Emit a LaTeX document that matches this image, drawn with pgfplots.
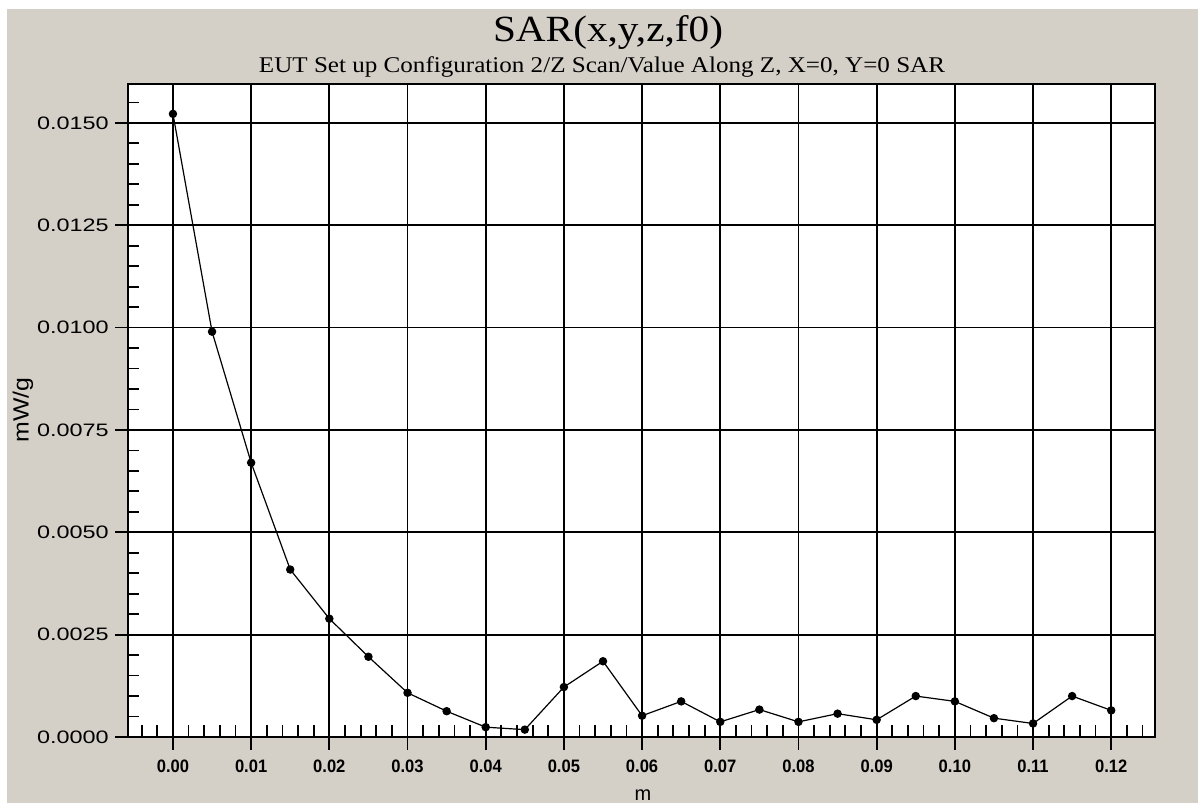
\documentclass[border=0pt]{standalone}
\usepackage{pgfplots}
\pgfplotsset{compat=1.18}
\usepackage{fontspec}
\setmainfont{Liberation Serif}
\newfontfamily\sansf{Liberation Sans}
\definecolor{bggray}{HTML}{D4D0C8}
\newcommand\yl[1]{\scalebox{1.3}[1]{#1}}
\newcommand\xl[1]{\scalebox{0.92}[1]{#1}}
\begin{document}
\begin{tikzpicture}
\path[use as bounding box] (0,0) rectangle (599pt,401.5pt);
\fill[white] (0,0) rectangle (599pt,401.5pt);
\fill[bggray] (3.5pt,0) rectangle (599pt,397pt);
\node[anchor=base, inner sep=0pt] at (304pt,380.5pt) {\resizebox{115pt}{13pt}{\fontsize{20}{20}\selectfont SAR(x,y,z,f0)}};
\node[anchor=base, inner sep=0pt] at (301pt,365pt) {\resizebox{343pt}{7.9pt}{\fontsize{11}{11}\selectfont EUT Set up Configuration 2/Z Scan/Value Along Z, X=0, Y=0 SAR}};
\begin{axis}[
  at={(64pt,33pt)}, anchor=south west,
  scale only axis, width=513.5pt, height=326.5pt,
  xmin=-0.00575, xmax=0.1256, ymin=0, ymax=0.01595,
  axis background/.style={fill=white},
  axis line style={black, line width=1pt},
  xtick={0,0.01,0.02,0.03,0.04,0.05,0.06,0.07,0.08,0.09,0.10,0.11,0.12},
  xticklabels={\xl{0.00},\xl{0.01},\xl{0.02},\xl{0.03},\xl{0.04},\xl{0.05},\xl{0.06},\xl{0.07},\xl{0.08},\xl{0.09},\xl{0.10},\xl{0.11},\xl{0.12}},
  ytick={0,0.0025,0.005,0.0075,0.01,0.0125,0.015},
  yticklabels={\yl{0.0000},\yl{0.0025},\yl{0.0050},\yl{0.0075},\yl{0.0100},\yl{0.0125},\yl{0.0150}},
  scaled ticks=false,
  xtick pos=lower, ytick pos=left,
  tick align=outside, major tick length=6.5pt,
  tick style={black, line width=0.9pt},
  grid=major, major grid style={black, line width=0.9pt},
  extra x ticks={-0.004,-0.002,...,0.1245},
  extra x tick labels={},
  extra x tick style={tick align=inside, grid=none, major tick length=6pt},
  extra y ticks={0.0005,0.001,...,0.01555},
  extra y tick labels={},
  extra y tick style={tick align=inside, grid=none, major tick length=5.5pt},
  xticklabel style={font=\sansf\bfseries\fontsize{9}{9}\selectfont, anchor=north, inner sep=0pt, yshift=-5pt},
  yticklabel style={font=\sansf\fontsize{9}{9}\selectfont, anchor=east, inner sep=0pt, xshift=-3pt},
]
\addplot[black, line width=0.6pt, mark=*, mark size=1.8pt] coordinates {
(0,0.01522) (0.005,0.00990) (0.01,0.00670) (0.015,0.00409) (0.02,0.00289)
(0.025,0.00196) (0.03,0.00108) (0.035,0.00063) (0.04,0.00024) (0.045,0.00018)
(0.05,0.00122) (0.055,0.00185) (0.06,0.00052) (0.065,0.00087) (0.07,0.00037)
(0.075,0.00067) (0.08,0.00037) (0.085,0.00057) (0.09,0.00042) (0.095,0.00100)
(0.10,0.00087) (0.105,0.00046) (0.11,0.00033) (0.115,0.00100) (0.12,0.00065)
};
\end{axis}
\node[rotate=90, inner sep=0pt] at (11.5pt,196.5pt) {\sansf\fontsize{11}{11}\selectfont\scalebox{1.13}[1]{mW/g}};
\node[anchor=base, inner sep=0pt] at (321.5pt,1.5pt) {\sansf\fontsize{10}{10}\selectfont m};
\end{tikzpicture}
\end{document}
